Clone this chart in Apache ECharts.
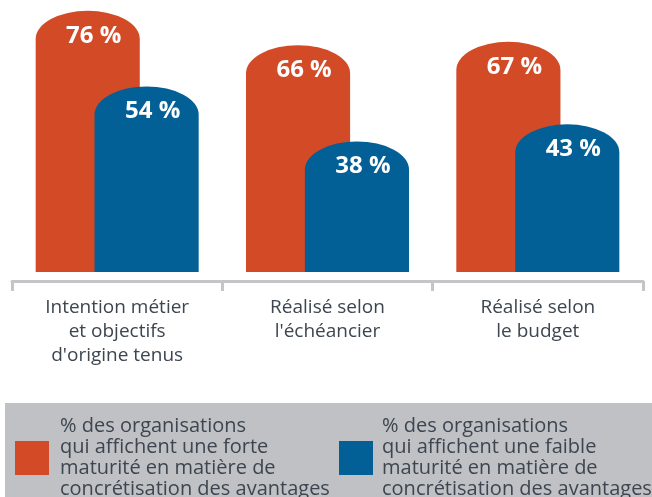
<!DOCTYPE html>
<html>
<head>
<meta charset="utf-8">
<script src="https://cdn.jsdelivr.net/npm/echarts@6/dist/echarts.min.js"></script>
<style>
  html, body { margin: 0; padding: 0; background: #fff; }
  #chart { width: 652px; height: 497px; }
</style>
</head>
<body>
<div id="chart"></div>
<script>
// donnees
const categories = [
  'Intention métier\net objectifs\nd\'origine tenus',
  'Réalisé selon\nl\'échéancier',
  'Réalisé selon\nle budget'
]
const forteValues = [76, 66, 67]
const faibleValues = [54, 38, 43]
const seriesNames = [
  '% des organisations\nqui affichent une forte\nmaturité en matière de\nconcrétisation des avantages',
  '% des organisations\nqui affichent une faible\nmaturité en matière de\nconcrétisation des avantages'
]

const orange = '#d34a27'
const blue = '#026096'
const textColor = '#3d4650'

// barre a sommet arrondi (ellipse), side = -1 gauche, +1 droite
function roundedBar (side) {
  return function (params, api) {
    const idx = api.value(0)
    const val = api.value(1)
    const top = api.coord([idx, val])
    const base = api.coord([idx, 0])
    const band = api.size([1, 0])[0]
    const w = band * 0.495
    const cx = top[0] + side * band * 0.14
    const x0 = cx - w / 2
    const x1 = cx + w / 2
    const rx = w / 2
    const ry = w * 0.27
    const yt = top[1]
    const yb = base[1]
    const d = 'M' + x0 + ' ' + yb +
      ' L' + x0 + ' ' + (yt + ry) +
      ' A' + rx + ' ' + ry + ' 0 0 1 ' + x1 + ' ' + (yt + ry) +
      ' L' + x1 + ' ' + yb + ' Z'
    return {
      type: 'group',
      children: [
        {
          type: 'path',
          shape: { pathData: d, x: x0, y: yt, width: w, height: yb - yt, layout: 'cover' },
          style: { fill: api.visual('color') }
        },
        {
          type: 'text',
          style: {
            text: val + ' %',
            x: cx + 6,
            y: yt + 25,
            align: 'center',
            verticalAlign: 'middle',
            fill: '#fff',
            font: 'bold 24px "Open Sans", sans-serif'
          }
        }
      ]
    }
  }
}

const chart = echarts.init(document.getElementById('chart'), null, { renderer: 'canvas' })

const legendText = { color: textColor, fontFamily: 'Open Sans', fontSize: 20, lineHeight: 21 }

const option = {
  animation: false,
  backgroundColor: '#fff',
  grid: { left: 12, right: 9, top: 4, bottom: 216 },
  graphic: [
    {
      type: 'rect',
      z: -10,
      shape: { x: 5, y: 403, width: 647, height: 100 },
      style: { fill: '#bfc1c4' }
    }
  ],
  legend: [
    {
      data: [seriesNames[0]],
      left: 15,
      top: 409,
      icon: 'rect',
      itemWidth: 34,
      itemHeight: 34,
      itemGap: 0,
      padding: 0,
      textStyle: Object.assign({ padding: [0, 0, 14, 6] }, legendText)
    },
    {
      data: [seriesNames[1]],
      left: 339,
      top: 409,
      icon: 'rect',
      itemWidth: 34,
      itemHeight: 34,
      itemGap: 0,
      padding: 0,
      textStyle: Object.assign({ padding: [0, 0, 14, 4] }, legendText)
    }
  ],
  xAxis: {
    type: 'category',
    data: categories,
    axisLine: { onZero: false, lineStyle: { color: '#c3c5c8', width: 3 } },
    axisTick: { show: true, length: 10, lineStyle: { color: '#c3c5c8', width: 3 } },
    axisLabel: {
      interval: 0,
      margin: 15,
      color: textColor,
      fontFamily: 'Open Sans',
      fontSize: 19,
      lineHeight: 24
    }
  },
  yAxis: {
    type: 'value',
    min: -2.62,
    max: 78,
    show: false,
    splitLine: { show: false }
  },
  series: [
    {
      name: seriesNames[0],
      type: 'custom',
      renderItem: roundedBar(-1),
      itemStyle: { color: orange },
      encode: { x: 0, y: 1 },
      data: forteValues.map((v, i) => [i, v])
    },
    {
      name: seriesNames[1],
      type: 'custom',
      renderItem: roundedBar(1),
      itemStyle: { color: blue },
      encode: { x: 0, y: 1 },
      data: faibleValues.map((v, i) => [i, v])
    }
  ]
}

chart.setOption(option)
</script>
</body>
</html>
